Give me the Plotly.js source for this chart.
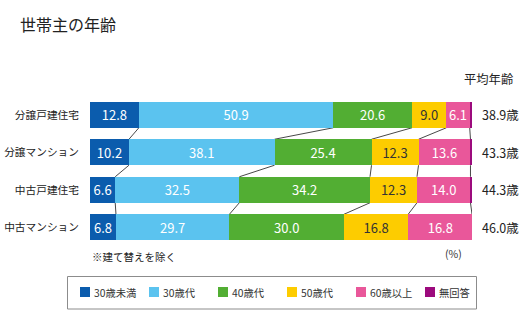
<!DOCTYPE html>
<html><head><meta charset="utf-8">
<script src="https://cdn.plot.ly/plotly-3.0.1.min.js"></script>
<style>html,body{margin:0;padding:0;background:#fff}</style>
</head><body><div id="chart" style="width:530px;height:326px"></div>
<script>
const categories = ['分譲戸建住宅','分譲マンション','中古戸建住宅','中古マンション'];
const seriesNames = ['30歳未満','30歳代','40歳代','50歳代','60歳以上','無回答'];
const under30 = [12.8,10.2,6.6,6.8];
const age30s = [50.9,38.1,32.5,29.7];
const age40s = [20.6,25.4,34.2,30.0];
const age50s = [9.0,12.3,12.3,16.8];
const over60 = [6.1,13.6,14.0,16.8];
const noAnswer = [0.6,0.4,0.4,0.0];
const avgAge = ['38.9','43.3','44.3','46.0'];

const series = [under30, age30s, age40s, age50s, over60, noAnswer];
const colors = ['#0b5cad','#5bc3ef','#52ae33','#fdcc00','#e9579a','#9c0a7d'];
const textColors = ['#fff','#fff','#fff','#333','#fff','#fff'];
const FONT = '"Noto Sans CJK JP", "Noto Sans", sans-serif';

// plot area in pixels
const L = 90, R = 472, T = 96, B = 246;
const px = x => (x - L) / (R - L);
const py = y => (B - y) / (B - T);
const bargap = 0.307;
const half = (1 - bargap) / 2;

const traces = series.map((vals, i) => ({
  type: 'bar', orientation: 'h', name: seriesNames[i],
  x: vals, y: categories,
  marker: {color: colors[i], line: {width: 0}},
  texttemplate: i === 5 ? '' : '%{x:.1f}',
  textposition: 'inside', insidetextanchor: 'middle',
  textfont: {color: textColors[i], size: 13, family: FONT},
  showlegend: false, hoverinfo: 'x+name'
}));

const shapes = [];
// connector lines between stacked boundaries
const cum = categories.map((c, r) => {
  let s = 0; return series.map(v => (s += v[r]));
});
for (let r = 0; r < categories.length - 1; r++) {
  for (let k = 0; k < series.length - 1; k++) {
    shapes.push({type: 'line', xref: 'x', yref: 'y',
      x0: cum[r][k], y0: r + half, x1: Math.min(cum[r + 1][k], 100), y1: r + 1 - half,
      line: {color: '#333', width: 0.9}, layer: 'below'});
  }
}
// legend box
shapes.push({type: 'rect', xref: 'paper', yref: 'paper',
  x0: px(67.5), x1: px(476.5), y0: py(309), y1: py(276.5),
  line: {color: '#8c8c8c', width: 1}, fillcolor: 'rgba(0,0,0,0)'});
const legendX = [80, 149, 218, 287, 356, 425];
const annotations = [];
seriesNames.forEach((n, i) => {
  shapes.push({type: 'rect', xref: 'paper', yref: 'paper',
    x0: px(legendX[i]), x1: px(legendX[i] + 10), y0: py(297), y1: py(287),
    fillcolor: colors[i], line: {width: 0}});
  annotations.push({xref: 'paper', yref: 'paper', x: px(legendX[i] + 12), y: py(292),
    xanchor: 'left', yanchor: 'middle', text: n, showarrow: false,
    font: {size: 10.3, color: '#333', family: FONT}});
});
// average ages
categories.forEach((c, r) => {
  annotations.push({xref: 'paper', yref: 'y', x: 1, y: c, xanchor: 'left', xshift: 8,
    text: avgAge[r] + '歳', showarrow: false, font: {size: 12.5, color: '#222', family: FONT}});
});
annotations.push({xref: 'paper', yref: 'paper', x: px(462), y: py(79), xanchor: 'left', yanchor: 'middle',
  text: '平均年齢', showarrow: false, font: {size: 12.3, color: '#222', family: FONT}});
annotations.push({xref: 'paper', yref: 'paper', x: px(464), y: py(253), xanchor: 'right', yanchor: 'middle',
  text: '(%)', showarrow: false, font: {size: 10.5, color: '#333', family: FONT}});
annotations.push({xref: 'paper', yref: 'paper', x: px(90), y: py(256), xanchor: 'left', yanchor: 'middle',
  text: '※建て替えを除く', showarrow: false, font: {size: 10.5, color: '#222', family: FONT}});

const layout = {
  width: 530, height: 326,
  margin: {l: L, r: 530 - R, t: T, b: 326 - B, pad: 0},
  paper_bgcolor: '#fff', plot_bgcolor: '#fff',
  font: {family: FONT, color: '#222'},
  title: {text: '世帯主の年齢', font: {size: 16, color: '#222', family: FONT},
    xref: 'container', yref: 'container', x: 20 / 530, xanchor: 'left', y: 1 - 25 / 326, yanchor: 'middle'},
  barmode: 'stack', bargap: bargap,
  uniformtext: {mode: 'show', minsize: 13},
  xaxis: {range: [0, 100], visible: false, fixedrange: true},
  yaxis: {type: 'category', autorange: 'reversed', showgrid: false, zeroline: false,
    showline: false, ticks: '', ticklabelstandoff: 10, tickfont: {size: 10.7, color: '#222', family: FONT}},
  shapes: shapes, annotations: annotations, showlegend: false
};
Plotly.newPlot('chart', traces, layout, {displayModeBar: false, staticPlot: true});
</script></body></html>
